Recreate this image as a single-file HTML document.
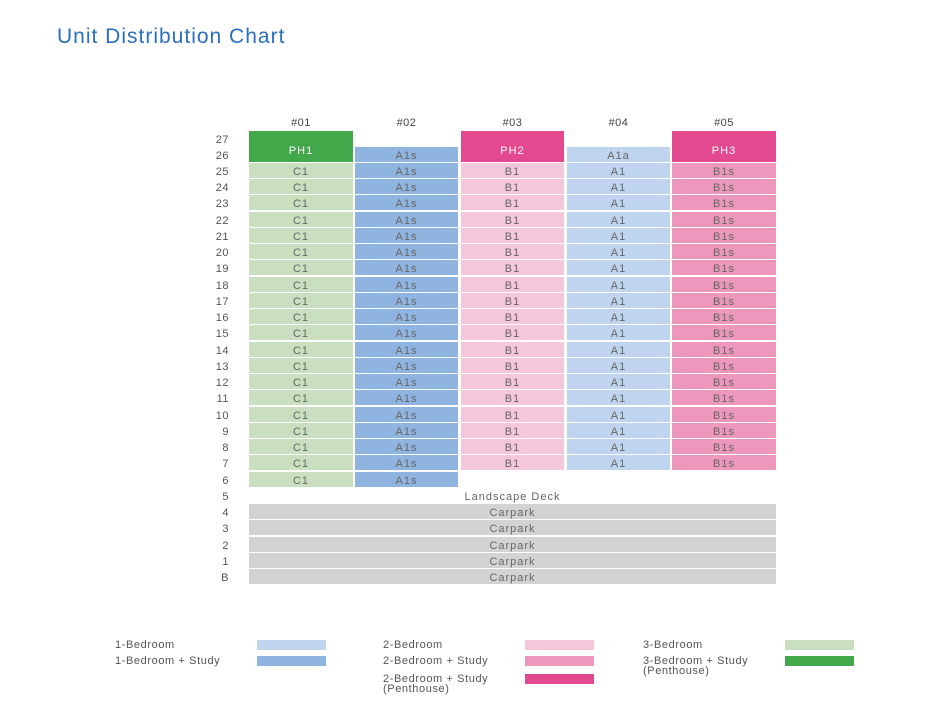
<!DOCTYPE html>
<html><head><style>
body{margin:0;width:943px;height:717px;background:#fff;position:relative;font-family:"Liberation Sans",sans-serif;overflow:hidden}
.a{position:absolute}
.c{position:absolute;height:15px;line-height:18px;text-align:center;font-size:11px;color:#666;letter-spacing:1px}
.l{position:absolute;font-size:11px;color:#555;width:20px;text-align:right;line-height:18px;letter-spacing:.5px}
.h{position:absolute;font-size:11px;color:#444;width:100px;text-align:center;top:117px;letter-spacing:.5px}
.g{position:absolute;font-size:11px;color:#555;letter-spacing:.6px;line-height:10px}
.s{position:absolute;width:69px;height:10px}
</style></head><body>
<div class="a" style="left:57px;top:25px;font-size:21px;color:#2a6fc0;letter-spacing:1px">Unit Distribution Chart</div>
<div id="g"></div>
<script>
(function(){
var out='';
var cols=[[249,104],[355,103],[461,103],[567,103],[672,104]];
var hd=['#01','#02','#03','#04','#05'];
hd.forEach(function(h,i){out+='<div class="h" style="left:'+(cols[i][0]+cols[i][1]/2-50)+'px">'+h+'</div>';});
var labs=['27','26','25','24','23','22','21','20','19','18','17','16','15','14','13','12','11','10','9','8','7','6','5','4','3','2','1','B'];
labs.forEach(function(t,k){var yy=163+(k-2)*16.24;out+='<div class="l" style="left:209px;top:'+yy+'px">'+t+'</div>';});
var spec=[['C1','#c9dfc0'],['A1s','#8fb4e0'],['B1','#f4c7da'],['A1','#bfd5ef'],['B1s','#ec97bb']];
for(var i=0;i<=19;i++){var yy=163+i*16.24;for(var c=0;c<5;c++){if(i==19&&c>1)continue;out+='<div class="c" style="left:'+cols[c][0]+'px;width:'+cols[c][1]+'px;top:'+yy+'px;background:'+spec[c][1]+'">'+spec[c][0]+'</div>';}}
out+='<div class="c" style="left:249px;width:104px;top:131px;height:31px;line-height:40px;background:#43a84a;color:#fff">PH1</div>';
out+='<div class="c" style="left:461px;width:103px;top:131px;height:31px;line-height:40px;background:#e3498f;color:#fff">PH2</div>';
out+='<div class="c" style="left:672px;width:104px;top:131px;height:31px;line-height:40px;background:#e3498f;color:#fff">PH3</div>';
out+='<div class="c" style="left:355px;width:103px;top:147px;line-height:19px;background:#8fb4e0">A1s</div>';
out+='<div class="c" style="left:567px;width:103px;top:147px;line-height:19px;background:#bfd5ef">A1a</div>';
out+='<div class="c" style="left:249px;width:527px;top:'+(163+20*16.24)+'px">Landscape Deck</div>';
for(var i=21;i<=25;i++){out+='<div class="c" style="left:249px;width:527px;top:'+(163+i*16.24)+'px;background:#d3d3d3">Carpark</div>';}
document.getElementById('g').innerHTML=out;
})();
</script>
<div class="g" style="left:115px;top:640px">1-Bedroom</div><div class="s" style="left:257px;top:640px;background:#bfd5ef"></div>
<div class="g" style="left:115px;top:656px">1-Bedroom + Study</div><div class="s" style="left:257px;top:656px;background:#8fb4e0"></div>
<div class="g" style="left:383px;top:640px">2-Bedroom</div><div class="s" style="left:525px;top:640px;background:#f4c7da"></div>
<div class="g" style="left:383px;top:656px">2-Bedroom + Study</div><div class="s" style="left:525px;top:656px;background:#ec97bb"></div>
<div class="g" style="left:383px;top:674px">2-Bedroom + Study<br>(Penthouse)</div><div class="s" style="left:525px;top:674px;background:#e3498f"></div>
<div class="g" style="left:643px;top:640px">3-Bedroom</div><div class="s" style="left:785px;top:640px;background:#c9dfc0"></div>
<div class="g" style="left:643px;top:656px">3-Bedroom + Study<br>(Penthouse)</div><div class="s" style="left:785px;top:656px;background:#43a84a"></div>
</body></html>
